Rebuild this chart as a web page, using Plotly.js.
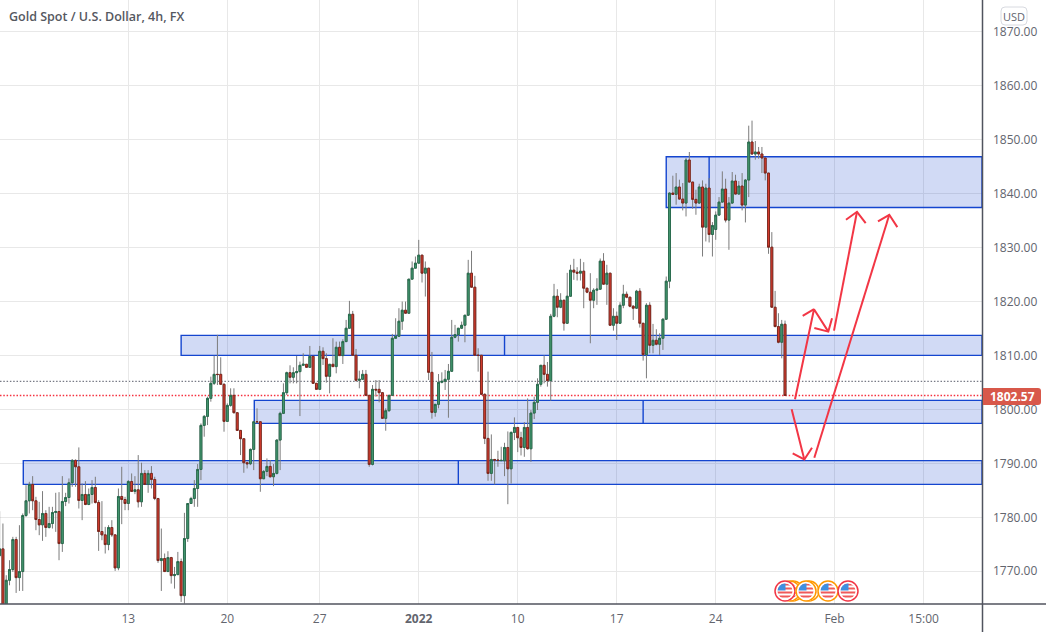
<!DOCTYPE html>
<html><head><meta charset="utf-8">
<script src="https://cdn.plot.ly/plotly-3.0.1.min.js"></script>
<style>html,body{margin:0;padding:0;background:#fff}#c{width:1046px;height:632px}</style>
</head><body><div id="c"></div>
<script>
const opens=[1772.91,1774.15,1763.5,1768.34,1770.32,1775.88,1768.83,1769.95,1780.33,1783.06,
1786.09,1783.06,1779.59,1778.6,1780.71,1778.11,1778.85,1780.89,1781.08,1775.14,
1782.93,1783.67,1786.4,1790.54,1789.36,1783.12,1784.23,1782.38,1784.23,1785.53,
1782.75,1777.37,1776.75,1774.95,1778.11,1776.75,1770.63,1783.86,1783.3,1782.56,
1786.64,1784.79,1785.1,1782.87,1788.13,1786.09,1788.13,1787.01,1783.49,1771.99,
1772.36,1769.95,1772.54,1769.2,1769.39,1771.8,1765.49,1776.07,1782.56,1783.49,
1785.34,1788.87,1797.03,1798.7,1802.04,1804.82,1806.49,1806.49,1804.64,1797.77,
1800.74,1802.6,1799.38,1796.1,1794.56,1790.11,1789.92,1792.58,1797.71,1797.71,
1787.14,1788.5,1789.43,1787.51,1788.13,1794.31,1799.26,1803.09,1806.8,1805.94,
1806.8,1806.99,1808.16,1808.35,1807.79,1809.83,1804.82,1803.71,1810.76,1809.4,
1806.12,1808.35,1807.92,1811.5,1809.96,1812.55,1815.03,1817.62,1810.02,1805.38,
1805.57,1806.49,1802.6,1789.8,1803.71,1803.71,1803.09,1798.33,1799.75,1802.6,
1813.17,1813.54,1816.33,1818.37,1817.81,1824.12,1826.16,1827.09,1828.57,1825.23,
1826.16,1806.86,1799.44,1800.93,1805.01,1805.19,1805.57,1807.05,1813.36,1813.85,
1815.03,1815.58,1817.44,1825.23,1822.63,1810.02,1810.02,1802.78,1794.62,1788.13,
1790.72,1790.6,1790.5,1790.47,1792.94,1788.99,1795.73,1796.65,1794.74,1792.94,
1796.65,1792.7,1799.31,1801.3,1804.64,1808.16,1806.49,1805.32,1817.25,1820.96,
1818.92,1820.22,1815.95,1820.96,1825.79,1825.42,1825.23,1825.6,1822.45,1821.71,
1820.22,1822.08,1822.26,1827.46,1823.19,1825.23,1815.58,1817.25,1815.95,1819.29,
1821.33,1820.78,1819.11,1818.74,1821.89,1815.95,1810.14,1819.29,1811.87,1812.8,
1812.06,1813.17,1816.7,1823.75,1840.07,1839.83,1841.19,1838.96,1838.22,1846.19,
1842.11,1838.9,1838.22,1841.19,1833.76,1841,1832.4,1833.33,1835.99,1838.4,
1840.81,1835.06,1838.22,1842.3,1839.89,1841.37,1837.85,1842.48,1849.53,1847.31,
1847.68,1847.31,1846.57,1843.78,1830.05,1818.92,1815.34,1812.43,1815.77];
const closes=[1774.15,1763.5,1768.34,1770.32,1775.88,1768.83,1769.95,1780.33,1783.06,1786.09,
1783.06,1779.59,1778.6,1780.71,1778.11,1778.85,1780.89,1781.08,1775.14,1782.93,
1783.67,1786.4,1790.54,1789.36,1783.12,1784.23,1782.38,1784.23,1785.53,1782.75,
1777.37,1776.75,1774.95,1778.11,1776.75,1770.63,1783.86,1783.3,1782.56,1786.64,
1784.79,1785.1,1782.87,1788.13,1786.09,1788.13,1787.01,1783.49,1771.99,1772.36,
1769.95,1772.54,1769.2,1769.39,1771.8,1765.49,1776.07,1782.56,1783.49,1785.34,
1788.87,1797.03,1798.7,1802.04,1804.82,1806.49,1806.45,1804.64,1797.77,1800.74,
1802.6,1799.38,1796.1,1794.56,1790.11,1789.92,1792.58,1797.71,1797.7,1787.14,
1788.5,1789.43,1787.51,1788.13,1794.31,1799.26,1803.09,1806.8,1805.94,1806.8,
1806.99,1808.16,1808.35,1807.79,1809.83,1804.82,1803.71,1810.76,1809.4,1806.12,
1808.35,1807.92,1811.5,1809.96,1812.55,1815.03,1817.62,1810.02,1805.38,1805.57,
1806.49,1802.6,1789.8,1803.71,1803.59,1803.09,1798.33,1799.75,1802.6,1813.17,
1813.54,1816.33,1818.37,1817.81,1824.12,1826.16,1827.09,1828.57,1825.23,1826.16,
1806.86,1799.44,1800.93,1805.01,1805.19,1805.57,1807.05,1813.36,1813.85,1815.03,
1815.58,1817.44,1825.23,1822.63,1810.02,1810,1802.78,1794.62,1788.13,1790.72,
1790.6,1790.55,1790.55,1792.94,1788.99,1795.73,1796.65,1794.74,1792.94,1796.65,
1792.7,1799.31,1801.3,1804.64,1808.16,1806.49,1805.32,1817.25,1820.96,1818.92,
1820.22,1815.95,1820.96,1825.79,1825.42,1825.23,1825.6,1822.45,1821.71,1820.22,
1822.08,1822.26,1827.46,1823.19,1825.23,1815.58,1817.25,1815.95,1819.29,1821.33,
1820.78,1819.11,1818.74,1821.89,1815.95,1810.14,1819.29,1811.87,1812.8,1812.06,
1813.17,1816.7,1823.75,1840.07,1839.83,1841.19,1838.96,1838.22,1846.19,1842.11,
1838.9,1838.22,1841.19,1833.76,1841,1832.4,1834.07,1835.99,1838.4,1840.81,
1835.06,1838.22,1842.3,1839.89,1841.37,1837.85,1842.48,1849.53,1847.31,1847.68,
1847.31,1846.57,1843.78,1830.05,1818.92,1815.34,1812.43,1815.77,1802.57];
const highs=[1781.14,1778.85,1769.27,1772.05,1776.38,1776.38,1778.54,1780.71,1785.96,1786.58,
1787.63,1783.8,1782.87,1784.85,1781.32,1781.94,1781.94,1784.54,1784.66,1787.63,
1784.54,1787.2,1790.79,1790.72,1792.95,1786.27,1786.7,1785.34,1786.89,1787.51,
1783.18,1783,1778.23,1778.54,1779.47,1776.75,1785.34,1789.36,1783.8,1786.89,
1788.13,1787.63,1791.53,1790.11,1788.74,1788.74,1789.49,1787.51,1783.49,1777.92,
1773.29,1773.72,1772.67,1770.81,1773.59,1772.36,1780.83,1782.56,1783.8,1786.89,
1789.86,1797.4,1798.95,1802.35,1806.06,1809.96,1813.8,1809.65,1804.82,1801.11,
1803.9,1803.9,1799.38,1796.17,1794.56,1790.3,1792.76,1797.9,1800.19,1797.71,
1788.74,1790.91,1790.6,1789.86,1794.43,1799.57,1804.82,1806.99,1808.16,1807.79,
1809.89,1808.84,1810.39,1808.35,1811.75,1809.83,1804.82,1811.75,1811.5,1810.39,
1808.35,1813.17,1812.55,1812.55,1812.99,1816.57,1820.1,1818.24,1811.19,1807.17,
1807.3,1807.3,1802.6,1804.51,1805.44,1805.44,1803.22,1800.19,1802.6,1813.98,
1816.88,1818.74,1819.97,1819.97,1824.12,1827.4,1828.32,1831.4,1828.57,1827.4,
1826.16,1810.64,1800.93,1806.55,1806.86,1807.3,1808.41,1816.57,1815.65,1815.03,
1816.26,1817.44,1827.7,1829.37,1824.74,1811.32,1810.02,1802.97,1806.99,1795.36,
1790.72,1792.33,1793.07,1793.81,1795.91,1795.91,1798.51,1796.65,1795.85,1797.64,
1802.03,1799.87,1802.35,1805.75,1808.22,1810.02,1808.78,1817.69,1823.25,1822.26,
1821.52,1820.22,1825.29,1826.78,1827.89,1826.34,1827.89,1827.27,1822.45,1825.23,
1822.45,1824.3,1827.95,1828.94,1826.78,1825.23,1818.74,1818.12,1819.85,1823.07,
1821.83,1820.78,1819.29,1822.14,1822.45,1815.95,1819.67,1819.85,1815.83,1814.84,
1814.1,1816.88,1824.61,1840.2,1843.29,1843.78,1842.55,1841.93,1846.57,1847.68,
1842.11,1840.69,1841.8,1842.42,1841.8,1842.85,1834.69,1836.67,1839.33,1844.09,
1842.73,1839.33,1843.97,1843.47,1842.3,1843.78,1842.67,1852.56,1853.49,1849.72,
1848.61,1848.61,1846.57,1843.78,1832.84,1821.95,1817.81,1816.57,1816.45];
const lows=[1772.6,1763,1763,1767.41,1769.88,1765.99,1766.36,1766.36,1780.09,1780.71,
1781.32,1777.61,1776.69,1775.64,1776.38,1777.92,1777.92,1777.3,1772.05,1773.59,
1782.07,1782.56,1785.65,1785.65,1781.63,1779.47,1782.25,1782.25,1782.56,1782.56,
1773.78,1775.76,1773.29,1773.9,1776.38,1770.07,1770.19,1778.73,1781.32,1781.32,
1784.73,1784.29,1781.82,1781.94,1786.02,1784.54,1785.34,1783.18,1771.55,1766.36,
1769.88,1769.88,1767.72,1766.79,1769.27,1764.32,1764.01,1775.45,1782.56,1781.94,
1781.94,1786.89,1794.93,1797.09,1801.42,1804.51,1804.51,1804.51,1795.86,1797.71,
1800.49,1799.26,1796.04,1791.53,1788.25,1789.05,1789.67,1788.75,1797.4,1784.73,
1787.14,1787.63,1787.38,1785.78,1787.94,1788.75,1799.13,1802.66,1804.82,1804.82,
1804.82,1798.76,1808.04,1807.67,1807.67,1804.7,1803.65,1803.59,1808.22,1804.95,
1802.97,1807.92,1806.68,1809.89,1808.41,1812.49,1815.03,1809.89,1805.13,1803.9,
1805.44,1802.47,1789.36,1789.61,1802.35,1801.3,1798.27,1796.04,1799.57,1802.47,
1813.17,1813.48,1814.72,1817.69,1817.69,1824.12,1826.16,1826.96,1823.5,1820.9,
1805.44,1798.27,1798.64,1800.19,1804.82,1803.59,1798.45,1806.99,1813.17,1812.55,
1814.9,1812.43,1817.32,1822.63,1810.02,1806.99,1802.66,1793.57,1786.77,1786.77,
1786.09,1789.36,1790.4,1787.63,1782.43,1786.26,1794.31,1792.08,1791.46,1791.21,
1792.57,1790.28,1798.21,1799.88,1804.21,1804.82,1804.21,1801.61,1817.07,1817.07,
1818.74,1814.59,1815.83,1820.9,1823.99,1823.87,1823.87,1818.74,1821.52,1812.24,
1818.74,1819.36,1822.14,1823.07,1819.36,1815.46,1814.59,1812.86,1815.83,1818.74,
1820.59,1818.92,1816.57,1818.61,1815.15,1809.03,1805.75,1810.39,1810.39,1811.87,
1810.08,1811.01,1816.57,1822.45,1839.76,1837.91,1838.84,1836.86,1835.74,1842.05,
1837.17,1836.05,1838.09,1828.32,1831.11,1830.92,1828.32,1831.41,1835.87,1838.34,
1834.63,1829.56,1838.09,1839.83,1839.83,1836.86,1834.63,1839.33,1847.18,1846.26,
1846.44,1843.78,1842.42,1828.82,1818.86,1815.21,1812.24,1809.46,1802.57];

const priceTicks=[1770,1780,1790,1800,1810,1820,1830,1840,1850,1860,1870];
const timeTicks=[40,70,98,128,158,188,218,254,281];
const timeLabels=['13','20','27','<b>2022</b>','10','17','24','Feb','15:00'];

const zoneTop=[1846.8,1813.7,1801.67,1790.5];
const zoneBottom=[1837.4,1810.0,1797.4,1786.1];
const zoneStart=[203,56,78.17,8.17];
const zoneDivider=[216,154,196,140];

const arrowK=[242.02,247.78,252.12,null,244.35,247.78,null,247.88,252.12,253.24,null,
253.84,260.81,null,257.47,260.81,263.44,null,
241.01,244.85,null,241.32,244.85,247.17,null,
247.88,270.6,null,267.17,270.6,273.03];
const arrowP=[1801.86,1818.55,1814.4,null,1817.31,1818.55,null,1815.08,1814.4,1816.88,null,
1814.59,1836.6,null,1835.12,1836.6,1834.5,null,
1800,1790.72,null,1791.83,1790.72,1792.88,null,
1791.03,1836.05,null,1834.81,1836.05,1833.76];

const lastPrice=1802.57, prevRef=1805.2;
const bars=opens.map((_,i)=>i+1);
const W=982,H=604,xR=[1.112,298.69],yR=[1763.94,1875.84];
const px=x=>x/W, py=y=>1-y/H;

const gridC='#e8e8e8', inkC='#62656e';
const traces=[
 {type:'candlestick',x:bars,open:opens,high:highs,low:lows,close:closes,whiskerwidth:0,hoverinfo:'skip',
  increasing:{line:{color:'#7c7c7c',width:1},fillcolor:'rgba(0,0,0,0)'},
  decreasing:{line:{color:'#7c7c7c',width:1},fillcolor:'rgba(0,0,0,0)'}},
 {type:'candlestick',x:bars,open:opens,close:closes,
  high:opens.map((o,i)=>Math.max(o,closes[i])),low:opens.map((o,i)=>Math.min(o,closes[i])),whiskerwidth:0,hoverinfo:'skip',
  increasing:{line:{color:'#22694a',width:0.9},fillcolor:'#479a72'},
  decreasing:{line:{color:'#7a2117',width:0.9},fillcolor:'#dd3f31'}},
 {type:'scatter',mode:'lines',x:arrowK,y:arrowP,connectgaps:false,hoverinfo:'skip',
  line:{color:'#f23645',width:2}}
];

const shapes=[];
zoneTop.forEach((t,i)=>{
 shapes.push({type:'rect',layer:'between',xref:'x',yref:'y',x0:zoneStart[i],x1:xR[1],y0:zoneBottom[i],y1:t,
   fillcolor:'rgba(24,72,204,0.2)',line:{color:'#1445cf',width:1.4}});
 shapes.push({type:'line',layer:'between',xref:'x',yref:'y',x0:zoneDivider[i],x1:zoneDivider[i],y0:zoneBottom[i],y1:t,
   line:{color:'#1445cf',width:1.4}});
});
shapes.push({type:'line',layer:'between',xref:'paper',yref:'y',x0:0,x1:1,y0:prevRef,y1:prevRef,line:{color:'#787b86',width:1.2,dash:'1.5px,1.8px'}});
shapes.push({type:'line',layer:'between',xref:'paper',yref:'y',x0:0,x1:1,y0:lastPrice,y1:lastPrice,line:{color:'#f5303f',width:1.4,dash:'1.5px,1.8px'}});
// frame
shapes.push({type:'line',xref:'paper',yref:'paper',x0:px(982.5),x1:px(982.5),y0:py(632),y1:1,line:{color:'#50535e',width:1.5}});
shapes.push({type:'line',xref:'paper',yref:'paper',x0:0,x1:px(1046),y0:0,y1:0,line:{color:'#50535e',width:1.5}});
// USD badge
const rr=(x0,y0,x1,y1,r,l)=>{const R=r,L=l===undefined?r:l;return `M${px(x0+L)},${py(y0)}L${px(x1-R)},${py(y0)}Q${px(x1)},${py(y0)} ${px(x1)},${py(y0+R)}L${px(x1)},${py(y1-R)}Q${px(x1)},${py(y1)} ${px(x1-R)},${py(y1)}L${px(x0+L)},${py(y1)}Q${px(x0)},${py(y1)} ${px(x0)},${py(y1-L)}L${px(x0)},${py(y0+L)}Q${px(x0)},${py(y0)} ${px(x0+L)},${py(y0)}Z`;};
shapes.push({type:'path',xref:'paper',yref:'paper',path:rr(1001,7,1027,25,4),line:{color:'#d8dae0',width:1},fillcolor:'#ffffff'});
shapes.push({type:'path',xref:'paper',yref:'paper',path:rr(983,388,1041,405,3,0),line:{color:'#d8584a',width:0},fillcolor:'#d8584a'});

const flag=(ring)=>'data:image/svg+xml;charset=utf-8,'+encodeURIComponent(
`<svg xmlns="http://www.w3.org/2000/svg" width="44" height="44" viewBox="0 0 44 44"><clipPath id="a"><circle cx="22" cy="22" r="15"/></clipPath><circle cx="22" cy="22" r="21" fill="#fff"/><circle cx="22" cy="22" r="20" fill="none" stroke="${ring}" stroke-width="3"/><g clip-path="url(#a)"><rect x="0" y="0" width="44" height="44" fill="#fff"/><rect x="0" y="7" width="44" height="4" fill="#ef5a5a"/><rect x="0" y="15" width="44" height="4" fill="#ef5a5a"/><rect x="0" y="23" width="44" height="4" fill="#ef5a5a"/><rect x="0" y="31" width="44" height="4" fill="#ef5a5a"/><rect x="6" y="6" width="17" height="15" fill="#3f8fe0"/></g></svg>`);
const flagAt=[[793,'#ff9800'],[790,'#ff9800'],[785,'#f23645'],[809,'#ff9800'],[806,'#ff9800'],[828,'#ff9800'],[848,'#f23645']];
const images=flagAt.map(([x,c])=>({source:flag(c),xref:'paper',yref:'paper',x:px(x),y:py(591),sizex:22/W,sizey:22/H,xanchor:'center',yanchor:'middle',sizing:'stretch',layer:'above'}));

const font='"Open Sans","Noto Sans",sans-serif';
const annotations=[
 {text:'Gold Spot / U.S. Dollar, 4h, FX',xref:'paper',yref:'paper',x:px(7),y:py(17),xanchor:'left',yanchor:'middle',showarrow:false,
  font:{family:font,size:12.5,color:'#55585f',weight:600}},
 {text:'USD',xref:'paper',yref:'paper',x:px(1014),y:py(16),xanchor:'center',yanchor:'middle',showarrow:false,
  font:{family:font,size:11,color:inkC}},
 {text:lastPrice.toFixed(2),xref:'paper',yref:'paper',x:px(1013),y:py(396.5),xanchor:'center',yanchor:'middle',showarrow:false,
  font:{family:font,size:12,color:'#ffffff',weight:700}}
];

const layout={
 width:1046,height:632,margin:{l:0,r:64,t:0,b:28},paper_bgcolor:'#fff',plot_bgcolor:'#fff',showlegend:false,
 boxmode:'overlay',boxgap:0.18,
 xaxis:{range:xR,rangeslider:{visible:false},tickmode:'array',tickvals:timeTicks,ticktext:timeLabels,
   showgrid:true,gridcolor:gridC,gridwidth:1,zeroline:false,showline:false,ticks:'',
   tickfont:{family:font,size:12,color:inkC},ticklabelstandoff:6},
 yaxis:{range:yR,side:'right',tickmode:'array',tickvals:priceTicks,ticktext:priceTicks.map(v=>v.toFixed(2)),
   showgrid:true,gridcolor:gridC,gridwidth:1,zeroline:false,showline:false,ticks:'',
   tickfont:{family:font,size:12,color:inkC},ticklabelstandoff:10},
 shapes,annotations,images
};
Plotly.newPlot('c',traces,layout,{displayModeBar:false,staticPlot:true});
</script></body></html>
